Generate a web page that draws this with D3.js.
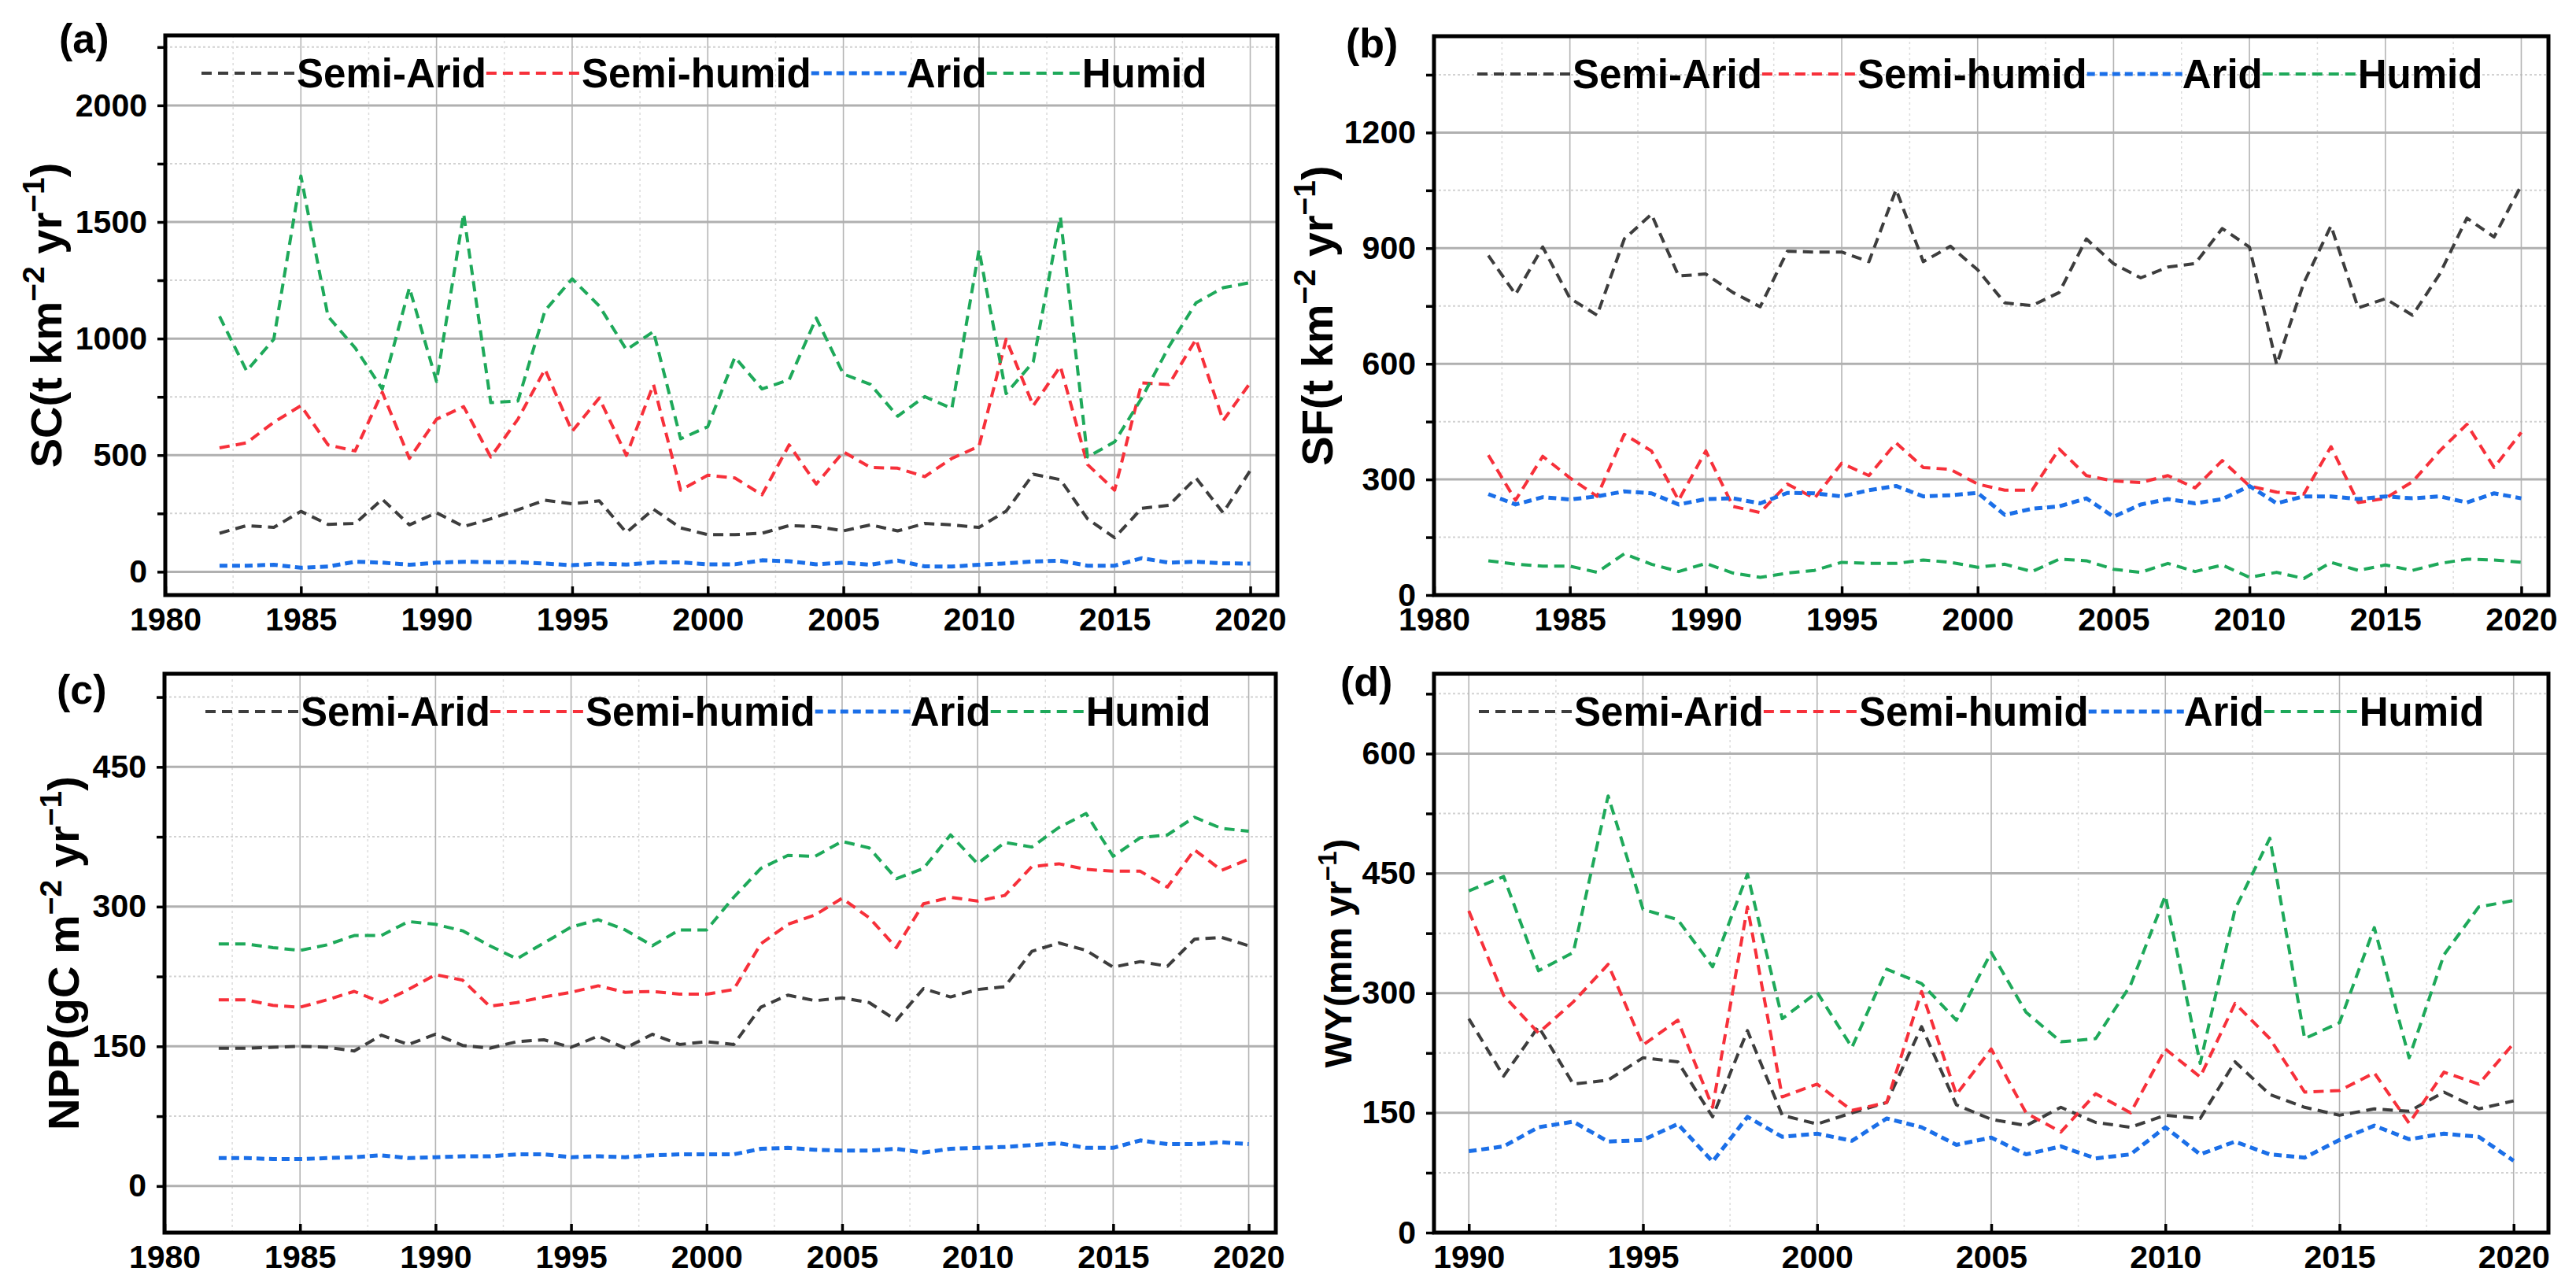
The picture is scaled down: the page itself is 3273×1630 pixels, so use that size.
<!DOCTYPE html>
<html>
<head>
<meta charset="utf-8">
<script src="https://cdn.jsdelivr.net/npm/d3@7"></script>
<style>
  html, body { margin: 0; padding: 0; background: #fff; }
  svg text { font-family: "Liberation Sans", Arial, "DejaVu Sans", sans-serif; font-weight: bold; }
</style>
</head>
<body>
<script>
// ---------------- DATA ----------------
const years = [1982,1983,1984,1985,1986,1987,1988,1989,1990,1991,1992,1993,1994,1995,1996,1997,1998,1999,2000,
  2001,2002,2003,2004,2005,2006,2007,2008,2009,2010,2011,2012,2013,2014,2015,2016,2017,2018,2019,2020];
const yearsWY = [1990,1991,1992,1993,1994,1995,1996,1997,1998,1999,2000,2001,2002,2003,2004,2005,2006,2007,2008,
  2009,2010,2011,2012,2013,2014,2015,2016,2017,2018,2019,2020];

const seriesNames = ["Semi-Arid", "Semi-humid", "Arid", "Humid"];

// (a) SC (t km-2 yr-1)
const scSemiArid  = [165,198,190,259,203,207,311,201,253,194,227,266,307,291,304,168,268,188,159,159,165,198,194,175,201,175,207,201,190,260,418,395,227,146,272,285,402,253,434];
const scSemiHumid = [531,553,641,712,544,518,770,486,654,708,492,654,868,602,745,499,803,350,414,402,330,544,376,514,447,444,408,486,538,997,712,881,460,350,810,803,997,648,810];
const scArid      = [26,26,30,17,22,43,39,30,39,43,41,41,35,28,35,31,40,40,32,32,49,45,32,39,30,48,23,22,30,36,44,47,26,26,58,39,43,36,35];
const scHumid     = [1095,861,997,1697,1095,960,784,1218,816,1535,725,732,1120,1256,1140,952,1030,570,622,920,784,823,1088,848,803,667,751,700,1380,764,900,1522,492,557,745,965,1153,1218,1240];

// (b) SF (t km-2 yr-1)
const sfSemiArid  = [881,780,903,770,726,924,988,828,833,785,748,892,890,890,865,1052,865,905,844,758,751,785,924,860,823,851,860,951,903,598,810,958,745,769,726,833,978,929,1063];
const sfSemiHumid = [363,246,360,304,256,417,374,246,374,230,214,288,251,342,310,395,331,326,288,272,272,379,310,296,292,310,278,349,283,267,262,385,240,251,294,374,443,331,422];
const sfArid      = [262,235,254,248,256,269,264,235,249,251,238,265,264,256,272,283,256,259,265,208,224,230,251,203,235,249,238,249,283,238,256,256,249,256,251,256,240,264,251];
const sfHumid     = [89,80,75,75,59,107,80,61,82,57,46,57,64,85,82,82,91,85,72,80,61,93,89,67,59,82,61,78,46,59,43,85,64,78,64,82,93,91,85];

// (c) NPP (gC m-2 yr-1)
const nppSemiArid  = [148,148,149,150,149,145,162,152,163,151,148,155,157,149,161,148,163,152,155,152,192,205,199,202,197,178,212,203,211,214,252,261,253,235,241,236,265,267,258];
const nppSemiHumid = [200,200,194,192,200,209,197,211,227,221,193,197,203,208,215,208,209,206,206,211,260,281,291,309,288,256,303,310,306,312,343,346,340,338,338,321,361,339,351];
const nppArid      = [30,30,29,29,30,31,33,30,31,32,32,34,34,31,32,31,33,34,34,34,40,41,39,38,38,40,36,40,41,42,44,46,41,41,49,45,45,47,45];
const nppHumid     = [260,260,256,253,259,269,269,284,281,274,258,244,261,278,286,275,258,275,275,310,341,355,354,370,363,330,341,377,346,369,364,385,400,354,374,377,396,384,381];

// (d) WY (mm yr-1), 1990-2020
const wySemiArid  = [268,196,258,186,191,219,214,145,253,147,136,150,163,258,160,142,134,157,138,132,147,143,214,173,157,147,155,152,176,155,165];
const wySemiHumid = [403,297,250,289,336,235,266,157,408,170,186,153,163,302,173,230,150,126,174,150,230,195,287,243,176,178,200,137,201,186,237];
const wyArid      = [102,108,132,139,114,116,136,89,145,120,124,115,143,132,110,119,98,108,93,98,132,98,114,98,94,116,134,117,124,120,90];
const wyHumid     = [428,446,328,351,547,405,392,333,449,268,301,232,330,312,266,351,276,239,243,310,422,212,405,494,243,263,382,219,348,408,416];

// tick labels
const yearTicks   = [1980,1985,1990,1995,2000,2005,2010,2015,2020];
const yearTicksWY = [1990,1995,2000,2005,2010,2015,2020];
const scTicks  = [0,500,1000,1500,2000];
const sfTicks  = [0,300,600,900,1200];
const nppTicks = [0,150,300,450];
const wyTicks  = [0,150,300,450,600];

// ---------------- STYLE / LAYOUT ----------------
const W = 3273, H = 1630;
const colors = { "Semi-Arid": "#3d3d3d", "Semi-humid": "#f7303a", "Arid": "#1b6fe8", "Humid": "#1ea95a" };
const dashes = { "Semi-Arid": "13,8", "Semi-humid": "13,8", "Arid": "10,6", "Humid": "13,8" };
const widths = { "Semi-Arid": 4, "Semi-humid": 4, "Arid": 5, "Humid": 4 };

const panels = [
  { label: "(a)", lx: 75, ly: 67, left: 210, right: 1623, top: 45, bottom: 756,
    xDomain: [1980, 2021], xTicks: yearTicks, yDomain: [-100, 2300], yTicks: scTicks, yStep: 250,
    title: ["SC(t km", "−2", " yr", "−1", ")"], titleX: 78, titleSize: 56, supSize: 39, legendOff: 46,
    x: years, data: [scSemiArid, scSemiHumid, scArid, scHumid] },
  { label: "(b)", lx: 1710, ly: 73, left: 1822, right: 3238, top: 46, bottom: 756,
    xDomain: [1980, 2021], xTicks: yearTicks, yDomain: [0, 1450], yTicks: sfTicks, yStep: 150,
    title: ["SF(t km", "−2", " yr", "−1", ")"], titleX: 1693, titleSize: 56, supSize: 39, legendOff: 55,
    x: years, data: [sfSemiArid, sfSemiHumid, sfArid, sfHumid] },
  { label: "(c)", lx: 72, ly: 894, left: 209, right: 1621, top: 856, bottom: 1566,
    xDomain: [1980, 2021], xTicks: yearTicks, yDomain: [-50, 550], yTicks: nppTicks, yStep: 75,
    title: ["NPP(gC m", "−2", " yr", "−1", ")"], titleX: 100, titleSize: 56, supSize: 39, legendOff: 52,
    x: years, data: [nppSemiArid, nppSemiHumid, nppArid, nppHumid] },
  { label: "(d)", lx: 1703, ly: 884, left: 1822, right: 3238, top: 856, bottom: 1566,
    xDomain: [1989, 2021], xTicks: yearTicksWY, yDomain: [0, 700], yTicks: wyTicks, yStep: 75,
    title: ["WY(mm yr", "−1", ")"], titleX: 1717, titleSize: 48, supSize: 33, legendOff: 57,
    x: yearsWY, data: [wySemiArid, wySemiHumid, wyArid, wyHumid] }
];

const svg = d3.select("body").append("svg").attr("width", W).attr("height", H);
svg.append("rect").attr("width", W).attr("height", H).attr("fill", "#fff");

panels.forEach(p => {
  const x = d3.scaleLinear().domain(p.xDomain).range([p.left, p.right]);
  const y = d3.scaleLinear().domain(p.yDomain).range([p.bottom, p.top]);
  const g = svg.append("g");

  // y tick values (major + minor)
  const yAll = [];
  for (let v = Math.ceil(p.yDomain[0] / p.yStep) * p.yStep; v <= p.yDomain[1]; v += p.yStep) yAll.push(v);
  const yMinor = yAll.filter(v => !p.yTicks.includes(v));
  const xMinor = p.xTicks.map(v => v + 2.5).filter(v => v < p.xDomain[1]);

  // minor grid
  g.selectAll(".ymin").data(yMinor).enter().append("line")
    .attr("x1", p.left).attr("x2", p.right).attr("y1", d => y(d)).attr("y2", d => y(d))
    .attr("stroke", "#d2d2d2").attr("stroke-width", 2).attr("stroke-dasharray", "3,3");
  g.selectAll(".xmin").data(xMinor).enter().append("line")
    .attr("y1", p.top).attr("y2", p.bottom).attr("x1", d => x(d)).attr("x2", d => x(d))
    .attr("stroke", "#dcdcdc").attr("stroke-width", 1.5).attr("stroke-dasharray", "3,4");
  // major grid
  g.selectAll(".xmaj").data(p.xTicks).enter().append("line")
    .attr("y1", p.top).attr("y2", p.bottom).attr("x1", d => x(d)).attr("x2", d => x(d))
    .attr("stroke", "#b4b4b4").attr("stroke-width", 1.6);
  g.selectAll(".ymaj").data(p.yTicks).enter().append("line")
    .attr("x1", p.left).attr("x2", p.right).attr("y1", d => y(d)).attr("y2", d => y(d))
    .attr("stroke", "#b0b0b0").attr("stroke-width", 3);

  // axes
  const yAxis = d3.axisLeft(y).tickValues(yAll).tickSizeInner(10).tickSizeOuter(0).tickPadding(13)
    .tickFormat(d => p.yTicks.includes(d) ? d : "");
  const ya = g.append("g").attr("transform", `translate(${p.left},0)`).call(yAxis);
  ya.select(".domain").remove();
  ya.selectAll(".tick line").attr("stroke", "#000").attr("stroke-width", 3.5);
  ya.selectAll(".tick text").attr("font-size", 41).attr("fill", "#000");

  const xAxis = d3.axisBottom(x).tickValues(p.xTicks).tickSizeInner(-11).tickSizeOuter(0).tickPadding(16)
    .tickFormat(d3.format("d"));
  const xa = g.append("g").attr("transform", `translate(0,${p.bottom})`).call(xAxis);
  xa.select(".domain").remove();
  xa.selectAll(".tick line").attr("stroke", "#000").attr("stroke-width", 3.5);
  xa.selectAll(".tick text").attr("font-size", 41).attr("fill", "#000");

  // series
  const line = d3.line().x((d, i) => x(p.x[i])).y(d => y(d));
  seriesNames.forEach((name, k) => {
    g.append("path").datum(p.data[k]).attr("d", line)
      .attr("fill", "none").attr("stroke", colors[name]).attr("stroke-width", widths[name])
      .attr("stroke-dasharray", dashes[name]).attr("stroke-linejoin", "round");
  });

  // frame
  g.append("rect").attr("x", p.left).attr("y", p.top).attr("width", p.right - p.left).attr("height", p.bottom - p.top)
    .attr("fill", "none").attr("stroke", "#000").attr("stroke-width", 5);

  // legend
  let lx = p.left + p.legendOff;
  const lyc = p.top + 48;
  seriesNames.forEach(name => {
    g.append("line").attr("x1", lx).attr("x2", lx + 121).attr("y1", lyc).attr("y2", lyc)
      .attr("stroke", colors[name]).attr("stroke-width", widths[name]).attr("stroke-dasharray", dashes[name]);
    lx += 121;
    const t = g.append("text").attr("x", lx).attr("y", lyc + 18).attr("font-size", 51).attr("fill", "#000").text(name);
    lx += t.node().getComputedTextLength();
  });

  // panel label
  g.append("text").attr("x", p.lx).attr("y", p.ly).attr("font-size", 52).attr("fill", "#000").text(p.label);

  // y title
  const cy = (p.top + p.bottom) / 2;
  const tt = g.append("text").attr("transform", `translate(${p.titleX},${cy}) rotate(-90)`)
    .attr("text-anchor", "middle").attr("font-size", p.titleSize).attr("fill", "#000");
  const shift = Math.round(p.titleSize * 0.4);
  p.title.forEach((s, i) => {
    const sup = s.startsWith("−");
    tt.append("tspan").attr("font-size", sup ? p.supSize : p.titleSize)
      .attr("dy", sup ? -shift : (i > 0 ? shift : 0)).text(s);
  });
});
</script>
</body>
</html>
